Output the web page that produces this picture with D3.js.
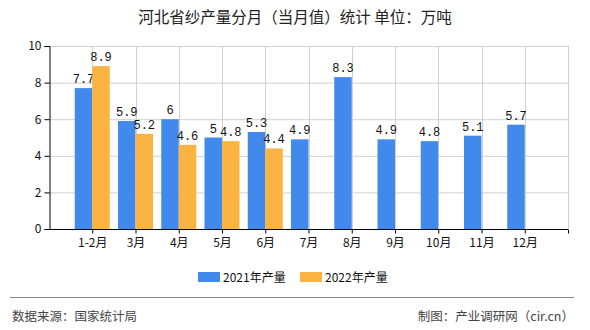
<!DOCTYPE html>
<html><head><meta charset="utf-8">
<script src="https://cdn.jsdelivr.net/npm/d3@7"></script>
<style>body{margin:0;background:#fff}svg{display:block}</style>
</head><body><svg id="c" width="590" height="330"></svg>
<script>
const categories = ["1-2月","3月","4月","5月","6月","7月","8月","9月","10月","11月","12月"];
const s2021 = [7.7,5.9,6,5,5.3,4.9,8.3,4.9,4.8,5.1,5.7];
const s2022 = [8.9,5.2,4.6,4.8,4.4,null,null,null,null,null,null];
const seriesNames = ["2021年产量","2022年产量"];
const yTicks = [0,2,4,6,8,10];
const title = "河北省纱产量分月（当月值）统计 单位：万吨";
const source = "数据来源：国家统计局";
const credit = "制图：产业调研网（cir.cn）";

const colors = ["#418AEC","#FBB441"];
const font = "'Noto Sans CJK SC','Noto Sans',sans-serif";
const svg = d3.select("#c");
const L=49, R=568, T=46, B=229;
const x = d3.scalePoint().domain(categories).range([L,R]).padding(1);
const y = d3.scaleLinear().domain([0,10]).range([B,T]);
const bw = 17.5;

svg.append("text").attr("x",295).attr("y",23).attr("text-anchor","middle")
  .attr("font-family",font).attr("font-size",15.5).attr("fill","#222").text(title);

// grid
const g = svg.append("g");
g.selectAll(".hg").data(yTicks.filter(d=>d>0)).join("line")
  .attr("x1",L).attr("x2",R).attr("y1",d=>y(d)+0.5).attr("y2",d=>y(d)+0.5)
  .attr("stroke","#d0d0d0");
g.selectAll(".vg").data(categories).join("line")
  .attr("x1",d=>Math.round(x(d))+0.5).attr("x2",d=>Math.round(x(d))+0.5).attr("y1",T).attr("y2",B)
  .attr("stroke","#d0d0d0");
g.append("line").attr("x1",R+0.5).attr("x2",R+0.5).attr("y1",T).attr("y2",B).attr("stroke","#d0d0d0");

// bars
const sets=[s2021,s2022];
sets.forEach((s,k)=>{
  const data = categories.map((c,i)=>({c,v:s[i]})).filter(d=>d.v!=null);
  svg.append("g").selectAll("rect").data(data).join("rect")
    .attr("x",d=>x(d.c)-(k===0?bw:0)).attr("width",bw)
    .attr("y",d=>y(d.v)).attr("height",d=>B-y(d.v)).attr("fill",colors[k]);
  svg.append("g").selectAll("text").data(data).join("text")
    .attr("x",d=>x(d.c)+(k===0?-bw/2:bw/2)).attr("y",d=>y(d.v)-5)
    .attr("text-anchor","middle").attr("font-family","'Liberation Mono','DejaVu Sans Mono',monospace")
    .attr("font-size",12).attr("fill","#111").text(d=>d.v);
});

// axes
const ya = d3.axisLeft(y).tickValues(yTicks).tickSize(5).tickPadding(3);
const yg = svg.append("g").attr("transform",`translate(${L+0.5},0)`).call(ya);
yg.select(".domain").attr("stroke","#000");
yg.selectAll("text").attr("font-family",font).attr("font-size",12).attr("fill","#111");
const xa = d3.axisBottom(x).tickSize(4).tickPadding(5).tickSizeOuter(0);
const xg = svg.append("g").attr("transform",`translate(0,${B+0.5})`).call(xa);
xg.select(".domain").attr("stroke","#000").attr("d",`M${L},0H${R}`);
xg.append("line").attr("x1",R+0.5).attr("x2",R+0.5).attr("y1",0).attr("y2",4).attr("stroke","#000");
xg.selectAll("text").attr("font-family",font).attr("font-size",12).attr("fill","#111");

// legend
const lg = svg.append("g");
const lx=[198,300];
seriesNames.forEach((n,k)=>{
  lg.append("rect").attr("x",lx[k]).attr("y",272).attr("width",22).attr("height",10).attr("fill",colors[k]);
  lg.append("text").attr("x",lx[k]+25).attr("y",281.5).attr("font-family",font).attr("font-size",12)
    .attr("fill","#111").text(n);
});

// footer
svg.append("line").attr("x1",10).attr("x2",574).attr("y1",297.5).attr("y2",297.5).attr("stroke","#888");
svg.append("text").attr("x",12).attr("y",321).attr("font-family",font).attr("font-size",12.5).attr("fill","#444").text(source);
svg.append("text").attr("x",574).attr("y",321).attr("text-anchor","end").attr("font-family",font).attr("font-size",12.5).attr("fill","#444").text(credit);
</script></body></html>
